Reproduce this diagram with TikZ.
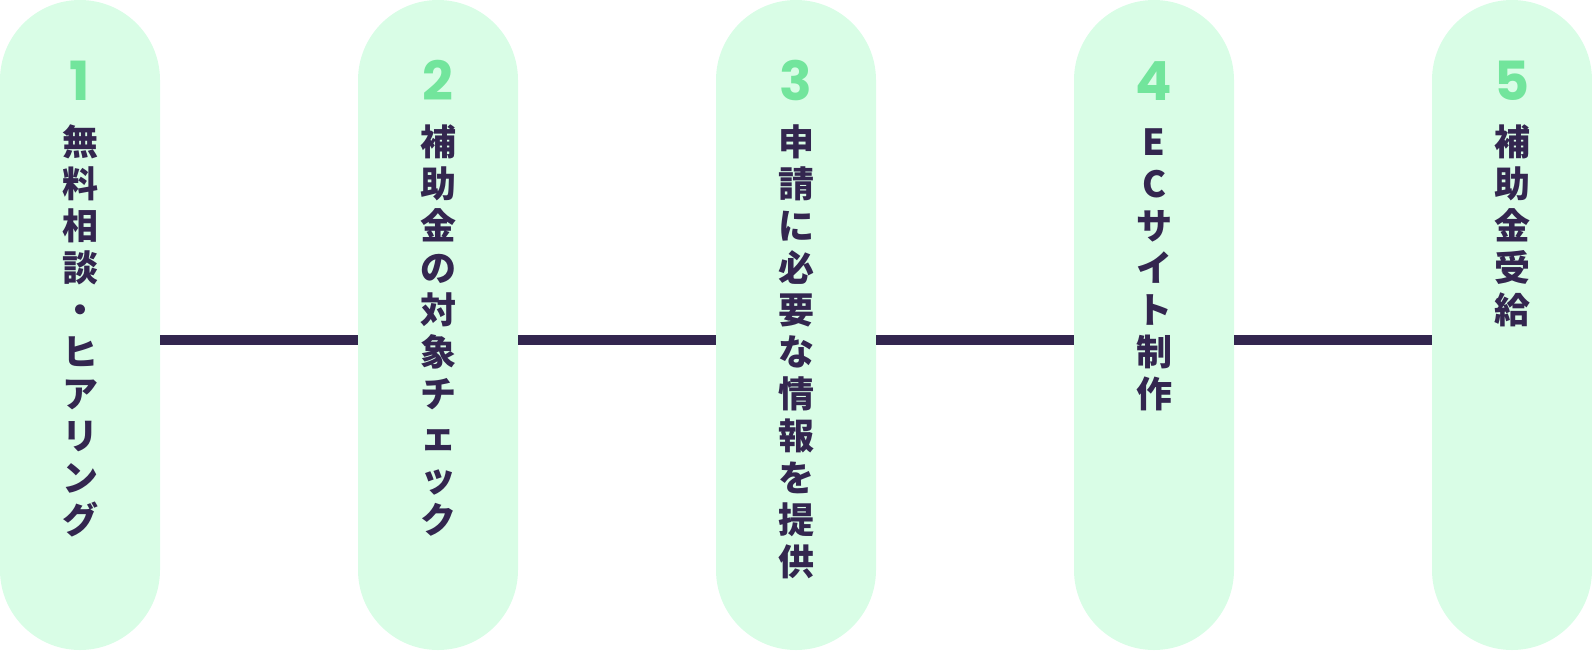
\documentclass[tikz,border=0pt]{standalone}
\usepackage{fontspec}
\newfontfamily\jpfont{Noto Sans CJK JP}
\newfontfamily\numfont{Poppins}
\usetikzlibrary{positioning}
\definecolor{mint}{HTML}{D9FDE6}
\definecolor{stepgreen}{HTML}{72E59C}
\definecolor{inkpurple}{HTML}{33264F}

\begin{document}
\begin{tikzpicture}[x=0.5pt, y=-0.5pt, pill/.style={fill=mint, rounded corners=40pt, minimum width=80pt, minimum height=325pt, inner sep=0pt}, num/.style={anchor=base, inner sep=0pt, text=stepgreen, font=\numfont\bfseries\fontsize{27pt}{27pt}\selectfont}, chr/.style={inner sep=0pt, text height=15.84pt, text depth=2.16pt, text=inkpurple, font=\jpfont\bfseries\fontsize{18pt}{18pt}\selectfont}, link/.style={draw=inkpurple, line width=5pt}]
\useasboundingbox (0,0) rectangle (1592,650);
\foreach \i in {1,...,5} {\node[pill] (p\i) at ({80+358*(\i-1)},325) {}; \node[num] (n\i) at ({80+358*(\i-1)},100) {\i};}
\foreach \c [count=\k] in {無,料,相,談,・,ヒ,ア,リ,ン,グ} \node[chr] (a\k) at (80,{100+42*\k}) {\c};
\foreach \c [count=\k] in {補,助,金,の,対,象,チ,ェ,ッ,ク} \node[chr] (b\k) at (438,{100+42*\k}) {\c};
\foreach \c [count=\k] in {申,請,に,必,要,な,情,報,を,提,供} \node[chr] (c\k) at (796,{100+42*\k}) {\c};
\foreach \c [count=\k] in {E,C,サ,イ,ト,制,作} \node[chr] (d\k) at (1154,{100+42*\k}) {\c};
\foreach \c [count=\k] in {補,助,金,受,給} \node[chr] (e\k) at (1512,{100+42*\k}) {\c};
% connectors between the steps
\draw[link] ([yshift=-7.5pt]p1.east) -- ([yshift=-7.5pt]p2.west); \draw[link] ([yshift=-7.5pt]p2.east) -- ([yshift=-7.5pt]p3.west); \draw[link] ([yshift=-7.5pt]p3.east) -- ([yshift=-7.5pt]p4.west); \draw[link] ([yshift=-7.5pt]p4.east) -- ([yshift=-7.5pt]p5.west);
\end{tikzpicture}
\end{document}
